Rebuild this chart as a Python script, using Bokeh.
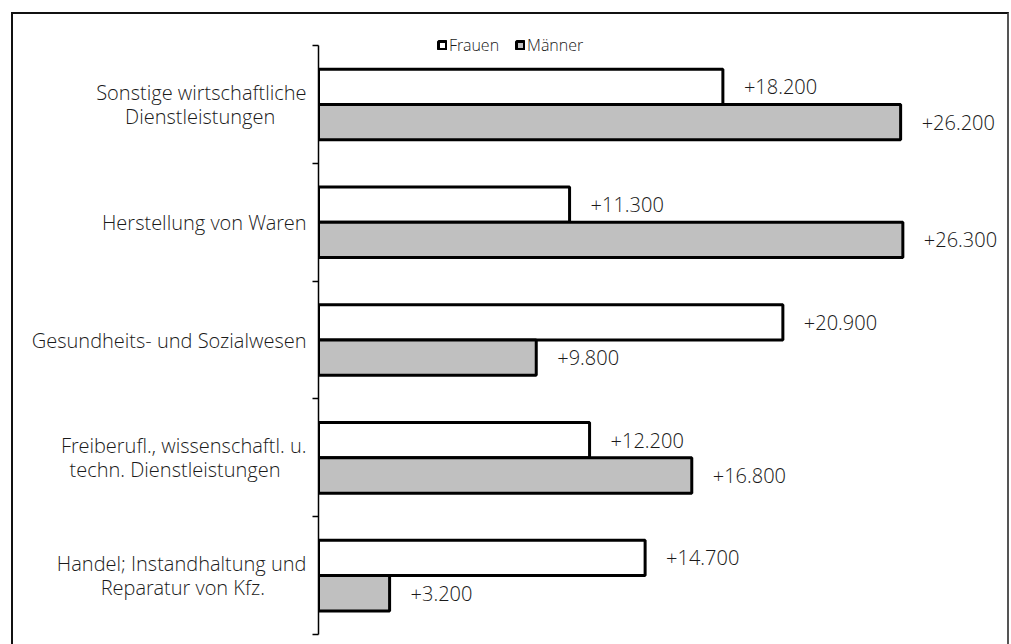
from bokeh.plotting import figure
from bokeh.models import Range1d, FixedTicker, ColumnDataSource, Legend, LegendItem
from bokeh.embed import file_html
from bokeh.resources import INLINE
from bokeh.core.properties import value

# Branches, top to bottom
categories = [
    "Sonstige wirtschaftliche\nDienstleistungen",
    "Herstellung von Waren",
    "Gesundheits- und Sozialwesen",
    "Freiberufl., wissenschaftl. u.\ntechn. Dienstleistungen",
    "Handel; Instandhaltung und\nReparatur von Kfz.",
]
series_names = ["Frauen", "Männer"]
frauen = [18200, 11300, 20900, 12200, 14700]
maenner = [26200, 26300, 9800, 16800, 3200]

FONT = "'Open Sans Light', 'Open Sans'"
TEXT_COLOR = "#1a1a1a"
n = len(categories)
centers = [n - i - 0.5 for i in range(n)]
bar_h = 0.3


def fmt(v):
    return "+" + f"{v:,}".replace(",", ".")


def approx_width(s):
    # rough advance widths in em for a humanist sans
    w = 0.0
    for ch in s:
        if ch in "iljtf.,;:'! ":
            w += 0.27
        elif ch in "rI":
            w += 0.36
        elif ch in "mwMW":
            w += 0.84
        elif ch.isupper():
            w += 0.62
        else:
            w += 0.55
    return w


def center_lines(label):
    # the axis right-aligns each line; pad shorter lines so they sit centred
    lines = label.split("\n")
    widest = max(approx_width(l) for l in lines)
    out = []
    for l in lines:
        pad = round((widest - approx_width(l)) / 2 / 0.26)
        out.append(l + "\u00a0" * pad)
    return "\n".join(out)


src_f = ColumnDataSource(dict(y=[c + bar_h / 2 for c in centers], v=frauen,
                              label=[fmt(v) for v in frauen]))
src_m = ColumnDataSource(dict(y=[c - bar_h / 2 for c in centers], v=maenner,
                              label=[fmt(v) for v in maenner]))

p = figure(width=998, height=632,
           x_range=Range1d(0, 31190), y_range=Range1d(-0.102, 5.264),
           output_backend="svg", toolbar_location=None,
           x_axis_location=None, y_axis_location="left",
           min_border_left=305, min_border_right=0,
           min_border_top=0, min_border_bottom=0)
p.outline_line_color = None
p.xgrid.visible = False
p.ygrid.visible = False
p.background_fill_color = "white"
p.border_fill_color = "white"
p.styles = {
    "margin-left": "11px",
    "margin-top": "12px",
    "border-top": "2px solid #111111",
    "border-left": "2px solid #111111",
    "border-right": "2px solid #555555",
}

rf = p.hbar(y="y", left=0, right="v", height=bar_h, source=src_f,
            fill_color="white", line_color="black", line_width=3)
rm = p.hbar(y="y", left=0, right="v", height=bar_h, source=src_m,
            fill_color="#c0c0c0", line_color="black", line_width=3)

for src in (src_f, src_m):
    p.text(x="v", y="y", text="label", source=src, x_offset=21,
           text_baseline="middle", text_align="left",
           text_font=value(FONT), text_font_size="20px", text_color=TEXT_COLOR)

ax = p.yaxis[0]
ax.ticker = FixedTicker(ticks=centers, minor_ticks=list(range(n + 1)))
ax.major_label_overrides = {c: center_lines(lab) for c, lab in zip(centers, categories)}
ax.bounds = (0, n)
ax.axis_line_color = "black"
ax.axis_line_width = 1.5
ax.major_tick_in = 0
ax.major_tick_out = 0
ax.minor_tick_in = 0
ax.minor_tick_out = 6
ax.minor_tick_line_color = "black"
ax.minor_tick_line_width = 1.5
ax.major_label_standoff = 6
ax.major_label_text_font = FONT
ax.major_label_text_font_size = "20px"
ax.major_label_text_line_height = 0.88
ax.major_label_text_color = TEXT_COLOR

legend = Legend(items=[LegendItem(label=series_names[0], renderers=[rf]),
                       LegendItem(label=series_names[1], renderers=[rm])],
                orientation="horizontal", location=(119, 590))
legend.border_line_color = None
legend.background_fill_alpha = 0
legend.padding = 0
legend.margin = 0
legend.spacing = 16
legend.glyph_width = 10
legend.glyph_height = 10
legend.label_standoff = 2
legend.label_text_font = FONT
legend.label_text_font_size = "16px"
legend.label_text_color = TEXT_COLOR
p.add_layout(legend)

open("out.html", "w").write(file_html(p, INLINE))
